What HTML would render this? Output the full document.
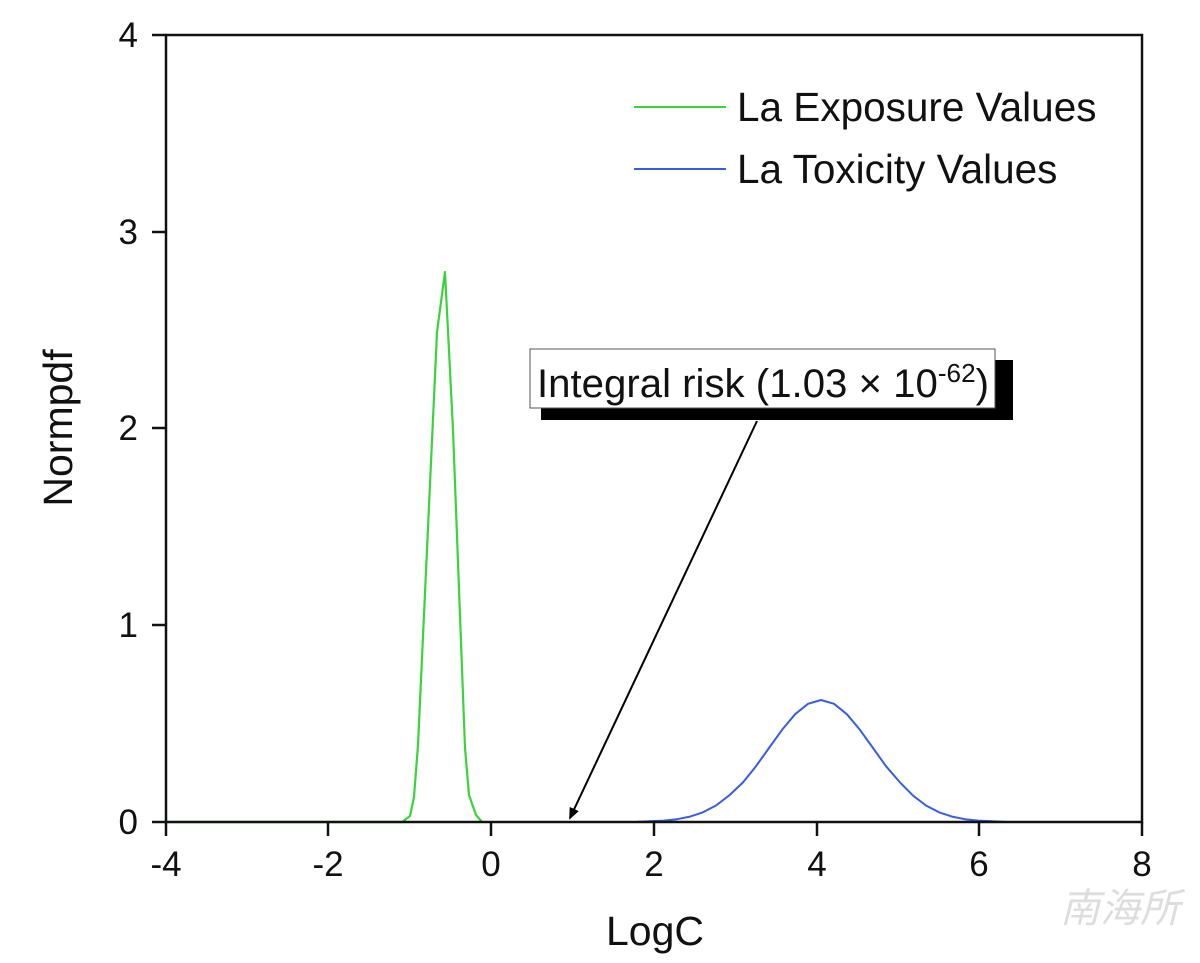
<!DOCTYPE html>
<html><head><meta charset="utf-8"><style>
body{margin:0;background:#fff;width:1200px;height:958px;overflow:hidden}
text{font-family:"Liberation Sans",Arial,sans-serif;fill:#111}
</style></head><body>
<svg width="1200" height="958" viewBox="0 0 1200 958">
<defs><marker id="ah" markerWidth="12" markerHeight="12" refX="10" refY="5" orient="auto" markerUnits="userSpaceOnUse"><path d="M0,0 L12,5 L0,10 z" fill="#000"/></marker></defs>
<line x1="166" y1="822" x2="1003" y2="822" stroke="#3a4fd0" stroke-width="2"/>
<polyline fill="none" stroke="#3a5ce0" stroke-width="2" stroke-linejoin="round" points="
638,821.7 664,820.6 677,819.2 690,816.6 703,812.3 716,805.5 729,795.6 743,782.4 756,766.2 769,748 782,729.9 795,714.3 808,703.8 821,700 834,703.8 847,714.3 860,729.9 873,748 886,766.2 900,782.4 913,795.6 926,805.5 939,812.3 952,816.6 965,819.2 978,820.6 1004,821.7"/>
<polyline fill="none" stroke="#3ad33a" stroke-width="2.2" stroke-linejoin="round" points="
166,822 402,822 410,816 414,797 418,745 437,332 445,272 453,430 465,748 469,795 476,815 482,822"/>
<rect x="166" y="35" width="976" height="787" fill="none" stroke="#111" stroke-width="2.5"/>
<g stroke="#111" stroke-width="2.5">
<line x1="166" y1="822" x2="166" y2="836"/><line x1="328" y1="822" x2="328" y2="836"/><line x1="491" y1="822" x2="491" y2="836"/><line x1="654" y1="822" x2="654" y2="836"/><line x1="817" y1="822" x2="817" y2="836"/><line x1="979" y1="822" x2="979" y2="836"/><line x1="1142" y1="822" x2="1142" y2="836"/>
<line x1="152" y1="822" x2="166" y2="822"/><line x1="152" y1="625" x2="166" y2="625"/><line x1="152" y1="428" x2="166" y2="428"/><line x1="152" y1="232" x2="166" y2="232"/><line x1="152" y1="35" x2="166" y2="35"/>
</g>
<g font-size="35" text-anchor="middle">
<text x="166" y="876">-4</text><text x="328" y="876">-2</text><text x="491" y="876">0</text><text x="654" y="876">2</text><text x="817" y="876">4</text><text x="979" y="876">6</text><text x="1142" y="876">8</text>
</g>
<g font-size="35" text-anchor="end">
<text x="138" y="834">0</text><text x="138" y="637">1</text><text x="138" y="440">2</text><text x="138" y="244">3</text><text x="138" y="47">4</text>
</g>
<text x="655" y="945" font-size="41" text-anchor="middle">LogC</text>
<text transform="translate(72,428) rotate(-90)" font-size="41" text-anchor="middle">Normpdf</text>
<line x1="634" y1="107" x2="726" y2="107" stroke="#3ad33a" stroke-width="2"/>
<text x="737" y="121" font-size="40.5">La Exposure Values</text>
<line x1="634" y1="169" x2="726" y2="169" stroke="#3a5ce0" stroke-width="2"/>
<text x="737" y="183" font-size="40.5">La Toxicity Values</text>
<rect x="541" y="360" width="472" height="60" fill="#000"/>
<rect x="530" y="349" width="465" height="59" fill="#fff" stroke="#555" stroke-width="1"/>
<text x="537" y="397" font-size="40" textLength="452" lengthAdjust="spacingAndGlyphs">Integral risk (1.03 × 10<tspan font-size="26" dy="-15">-62</tspan><tspan dy="15">)</tspan></text>
<line x1="757" y1="421" x2="570" y2="818" stroke="#000" stroke-width="2" marker-end="url(#ah)"/>
<text x="1180" y="922" font-size="40" text-anchor="end" style="fill:#ddd;font-family:'Liberation Sans','Noto Sans CJK SC',sans-serif;font-style:italic">南海所</text>
</svg>
</body></html>
